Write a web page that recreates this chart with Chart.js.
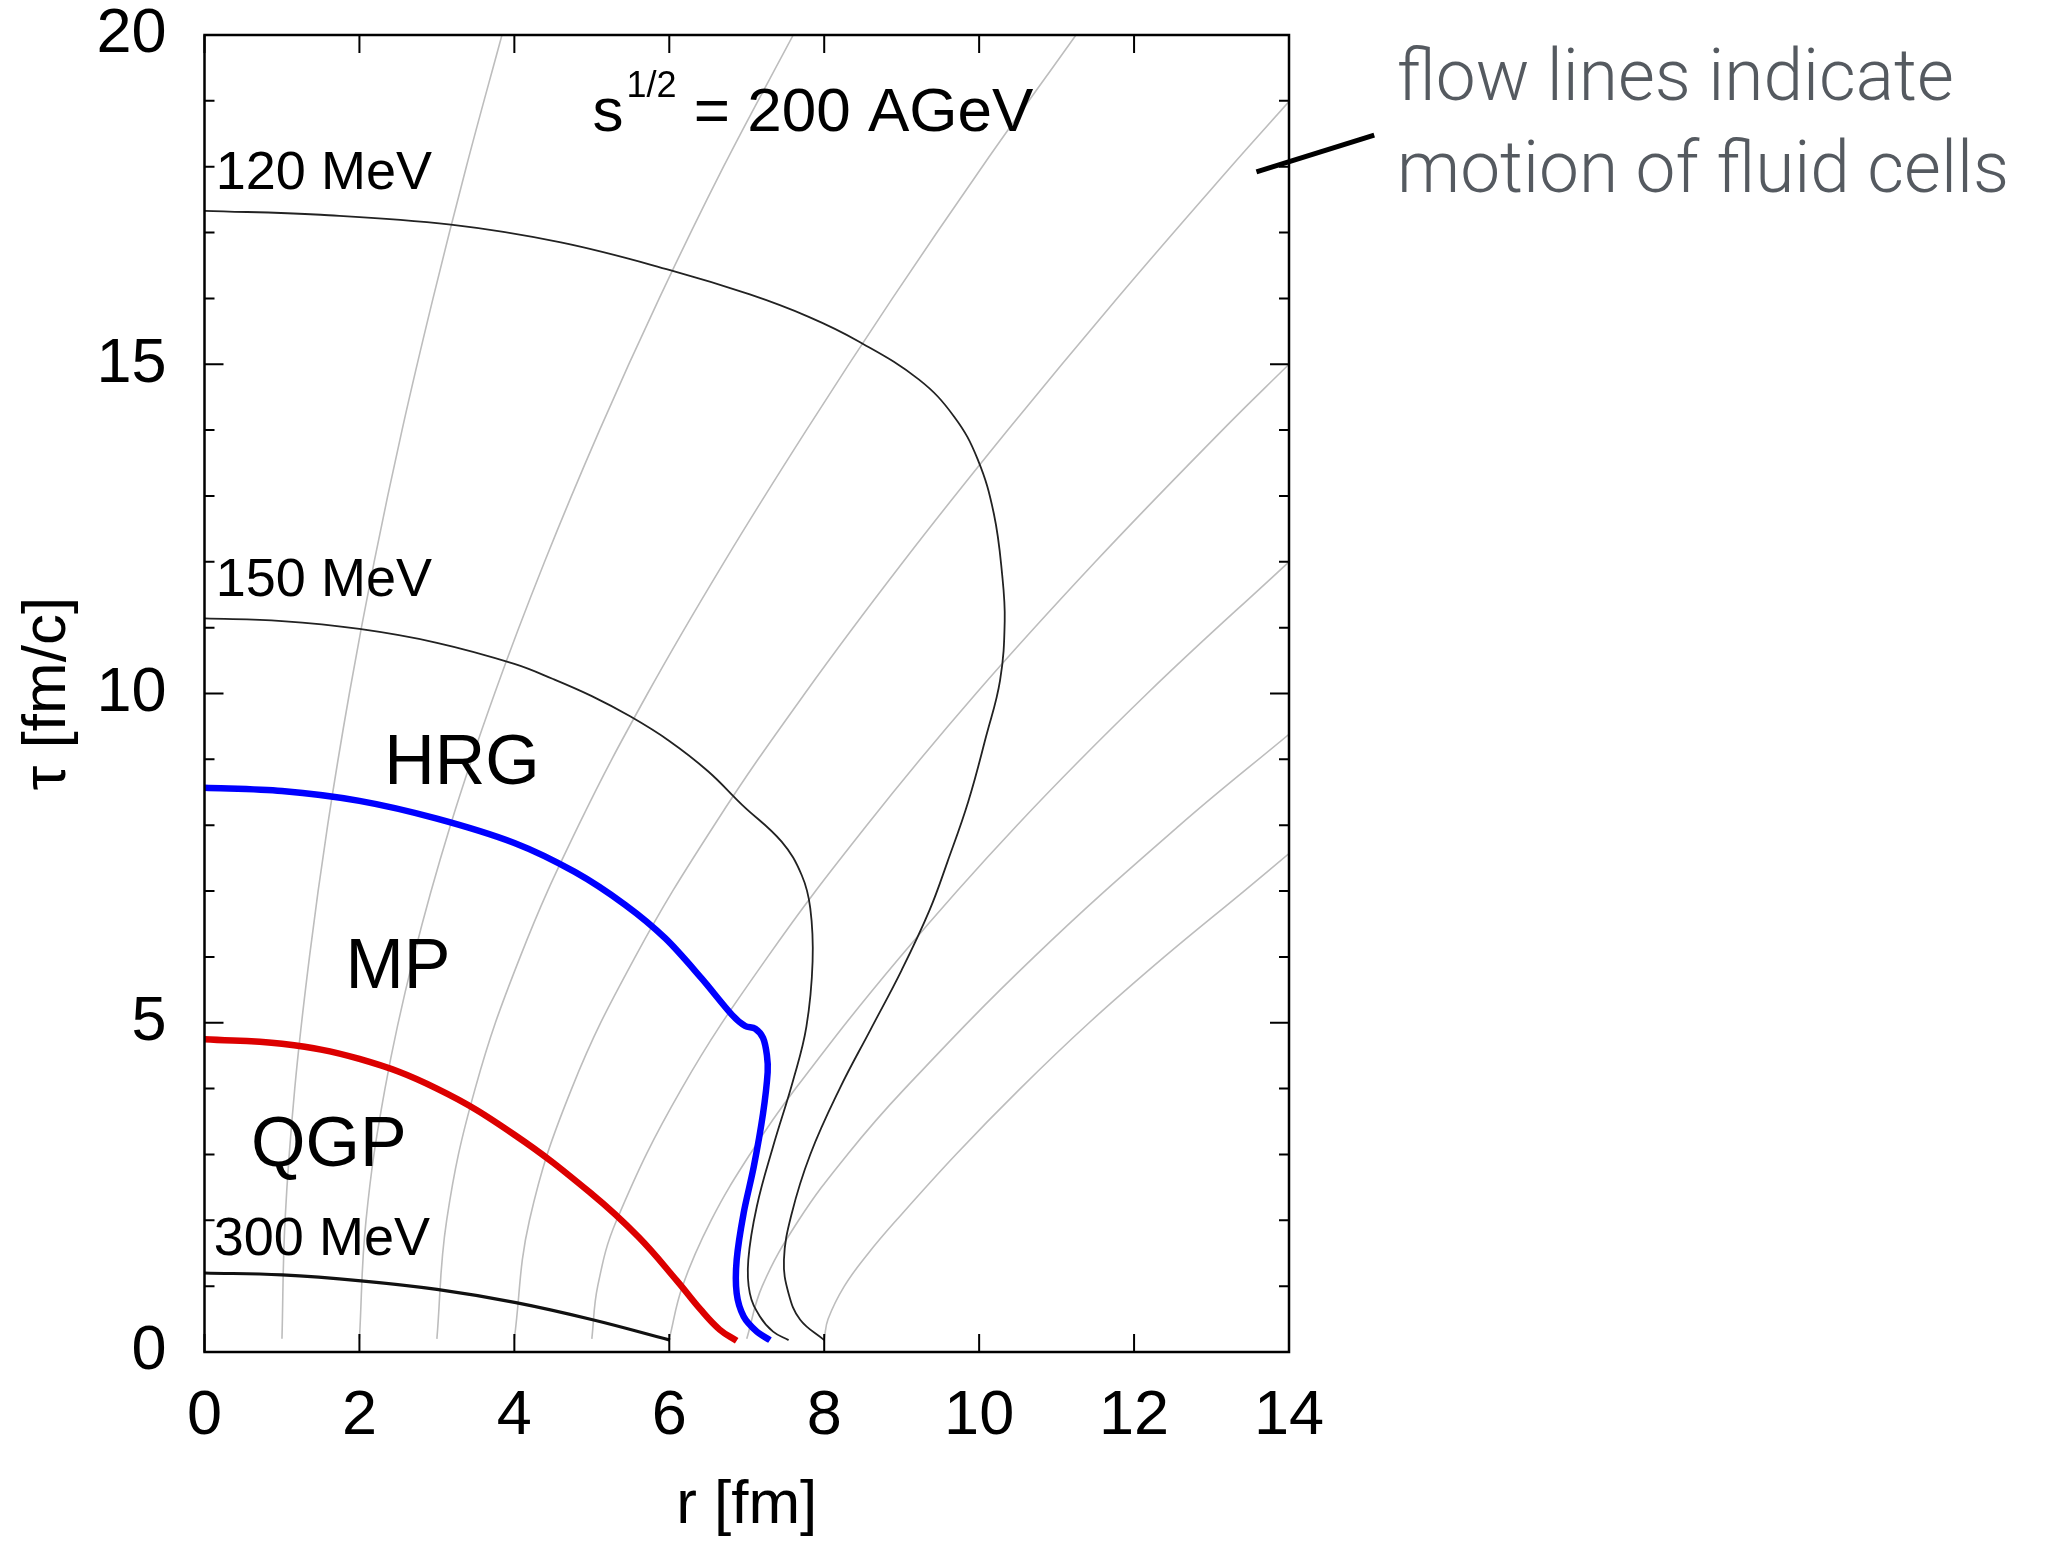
<!DOCTYPE html>
<html>
<head>
<meta charset="utf-8">
<script src="https://cdn.jsdelivr.net/npm/chart.js@4.4.1/dist/chart.umd.min.js"></script>
<style>
  html, body { margin: 0; padding: 0; background: #fff; }
  #wrap { width: 2048px; height: 1543px; }
</style>
</head>
<body>
<div id="wrap"><canvas id="chart" width="2048" height="1543"></canvas></div>
<script>
// ================= DATA ==================
// axis ticks
const rTicks = [0, 2, 4, 6, 8, 10, 12, 14];
const tauTicks = [0, 5, 10, 15, 20];

// isotherms, r [fm] vs tau [fm/c]
const t120R   = [0, 1.5, 3.18, 4.6, 6.01, 7.04, 7.8, 8.44, 9.22, 9.68, 9.98, 10.19, 10.30, 10.33, 10.27, 10.09, 9.86, 9.59, 9.36, 9.0, 8.6, 8.2, 7.82, 7.58, 7.48, 7.54, 7.69, 8.0];
const t120Tau = [17.33, 17.27, 17.12, 16.85, 16.43, 16.06, 15.72, 15.35, 14.77, 14.20, 13.56, 12.73, 11.77, 11.1, 10.2, 9.35, 8.36, 7.44, 6.71, 5.8, 4.9, 4.0, 3.0, 2.1, 1.40, 0.89, 0.49, 0.18];

const t150R   = [0, 1, 2, 3, 4, 4.5, 5, 5.5, 6, 6.5, 6.94, 7.45, 7.71, 7.82, 7.85, 7.77, 7.60, 7.34, 7.13, 7.02, 7.04, 7.17, 7.34, 7.54];
const t150Tau = [11.14, 11.10, 10.98, 10.77, 10.45, 10.22, 9.96, 9.65, 9.28, 8.82, 8.31, 7.75, 7.24, 6.74, 5.93, 4.94, 4.13, 3.12, 2.21, 1.40, 0.89, 0.54, 0.31, 0.18];

const t300R   = [0, 1, 2.02, 3, 4.02, 5.01, 6.01];
const t300Tau = [1.20, 1.17, 1.08, 0.95, 0.75, 0.49, 0.18];

// phase boundaries
const hrgR   = [0, 1, 2, 3, 4, 4.78, 5.43, 5.95, 6.42, 6.81, 6.98, 7.11, 7.21, 7.26, 7.27, 7.21, 7.09, 6.96, 6.87, 6.87, 6.96, 7.13, 7.30];
const hrgTau = [8.57, 8.52, 8.37, 8.1, 7.73, 7.29, 6.79, 6.28, 5.67, 5.12, 4.95, 4.91, 4.77, 4.51, 4.25, 3.62, 2.81, 2.11, 1.4, 0.89, 0.54, 0.31, 0.18];

const qgpR   = [0, 1, 2, 3, 4, 5, 5.6, 6.1, 6.4, 6.65, 6.87];
const qgpTau = [4.75, 4.68, 4.45, 4.0, 3.3, 2.4, 1.75, 1.08, 0.65, 0.34, 0.17];

// flow lines of fluid cells
const flowR = [
  [1, 1.04, 1.165, 1.355, 1.59, 1.87, 2.19, 2.55, 2.95, 3.38, 3.84],
  [2, 2.085, 2.33, 2.70, 3.175, 3.745, 4.39, 5.10, 5.87, 6.70, 7.60],
  [3, 3.126, 3.494, 4.075, 4.83, 5.72, 6.71, 7.77, 8.88, 10.04, 11.25],
  [4, 4.195, 4.74, 5.56, 6.58, 7.75, 9.02, 10.37, 11.78, 13.25, 14.0],
  [5, 5.076, 5.32, 6.16, 7.27, 8.55, 9.96, 11.50, 13.14, 14.0],
  [6, 6.17, 6.54, 7.04, 7.63, 8.98, 10.49, 12.17, 14.0],
  [7, 7.2, 7.67, 8.30, 9.04, 10.71, 12.59, 14.0],
  [8, 8.05, 8.26, 8.57, 8.93, 9.70, 10.53, 11.42, 12.39, 13.42, 14.0]
];
const flowTau = [
  [0.2, 2, 4, 6, 8, 10, 12, 14, 16, 18, 20],
  [0.2, 2, 4, 6, 8, 10, 12, 14, 16, 18, 20],
  [0.2, 2, 4, 6, 8, 10, 12, 14, 16, 18, 20],
  [0.2, 2, 4, 6, 8, 10, 12, 14, 16, 18, 18.99],
  [0.2, 1, 2, 4, 6, 8, 10, 12, 14, 15],
  [0.2, 1, 2, 3, 4, 6, 8, 10, 12],
  [0.2, 1, 2, 3, 4, 6, 8, 9.38],
  [0.2, 0.5, 1, 1.5, 2, 3, 4, 5, 6, 7, 7.57]
];

// pointer from the side note into the flow lines
const pointerR   = [13.58, 15.10];
const pointerTau = [17.92, 18.48];

// ================= LABELS ==================
const FONT = '"Liberation Sans", Arial, Helvetica, sans-serif';
const NOTE_FONT = 'Roboto, "Liberation Sans", sans-serif';

const regionLabels = [
  { text: '120 MeV', r: 0.146, tau: 17.66, size: 54 },
  { text: '150 MeV', r: 0.146, tau: 11.48, size: 54 },
  { text: '300 MeV', r: 0.12,  tau: 1.48,  size: 54 },
  { text: 'HRG',     r: 2.32,  tau: 8.63,  size: 70 },
  { text: 'MP',      r: 1.82,  tau: 5.53,  size: 70 },
  { text: 'QGP',     r: 0.60,  tau: 2.83,  size: 70 }
];

const noteLines = ['flow lines indicate', 'motion of fluid cells'];

function curve(rs, taus){
  return rs.map((r, i) => ({ x: r, y: taus[i] }));
}

// ================= DATASETS ==================
const datasets = [
  { data: curve(hrgR, hrgTau), borderColor: '#0000ff', borderWidth: 6.5, tension: 0.3 },
  { data: curve(qgpR, qgpTau), borderColor: '#dc0000', borderWidth: 6.5, tension: 0.4 },
  { data: curve(t300R, t300Tau), borderColor: '#111', borderWidth: 3.2, tension: 0.4 },
  { data: curve(t150R, t150Tau), borderColor: '#222', borderWidth: 1.8, tension: 0.4 },
  { data: curve(t120R, t120Tau), borderColor: '#222', borderWidth: 1.8, tension: 0.4 },
  { data: curve(pointerR, pointerTau), borderColor: '#000', borderWidth: 5, tension: 0, clip: false }
];
flowR.forEach((rs, i) => {
  datasets.push({ data: curve(rs, flowTau[i]), borderColor: '#bdbdbd', borderWidth: 1.6, tension: 0.4 });
});
datasets.forEach(d => { d.showLine = true; d.pointRadius = 0; d.fill = false; });

// ================= DECORATION ==================
const decor = {
  id: 'decor',
  afterDatasetsDraw(chart){
    const { ctx, chartArea: a, scales: { x, y } } = chart;
    ctx.save();

    // frame
    ctx.strokeStyle = '#000';
    ctx.lineWidth = 2.5;
    ctx.strokeRect(a.left, a.top, a.right - a.left, a.bottom - a.top);

    // inward ticks on all sides
    ctx.lineWidth = 2;
    ctx.beginPath();
    rTicks.forEach(v => {
      const px = x.getPixelForValue(v);
      ctx.moveTo(px, a.bottom); ctx.lineTo(px, a.bottom - 18);
      ctx.moveTo(px, a.top);    ctx.lineTo(px, a.top + 18);
    });
    for (let v = tauTicks[0]; v <= tauTicks[tauTicks.length - 1]; v++) {
      const len = tauTicks.includes(v) ? 19 : 10;
      const py = y.getPixelForValue(v);
      ctx.moveTo(a.left, py);  ctx.lineTo(a.left + len, py);
      ctx.moveTo(a.right, py); ctx.lineTo(a.right - len, py);
    }
    ctx.stroke();

    // labels inside the plot
    ctx.fillStyle = '#000';
    ctx.textAlign = 'left';
    ctx.textBaseline = 'alphabetic';
    regionLabels.forEach(l => {
      ctx.font = l.size + 'px ' + FONT;
      ctx.fillText(l.text, x.getPixelForValue(l.r), y.getPixelForValue(l.tau));
    });

    // s^{1/2} = 200 AGeV
    let tx = x.getPixelForValue(5.01);
    const ty = y.getPixelForValue(18.54);
    ctx.font = '62px ' + FONT;
    ctx.fillText('s', tx, ty);
    tx += ctx.measureText('s').width + 3;
    ctx.font = '36px ' + FONT;
    ctx.fillText('1/2', tx, ty - 34);
    tx += ctx.measureText('1/2').width;
    ctx.font = '62px ' + FONT;
    ctx.fillText(' = 200 AGeV', tx, ty);

    // side note, light face squeezed to the width of the original
    ctx.fillStyle = '#555a60';
    ctx.font = '300 73px ' + NOTE_FONT;
    const squeeze = 612 / ctx.measureText(noteLines[1]).width;
    const nx = a.right + 108;
    ctx.translate(nx, 0);
    ctx.scale(squeeze, 1);
    ctx.fillText(noteLines[0], 0, a.top + 65);
    ctx.fillText(noteLines[1], 0, a.top + 156.7);

    ctx.restore();
  }
};

// ================= CHART ==================
Chart.defaults.font.family = FONT;
Chart.defaults.color = '#000';

new Chart(document.getElementById('chart'), {
  type: 'scatter',
  data: { datasets },
  options: {
    responsive: false,
    animation: false,
    devicePixelRatio: 1,
    layout: { padding: { left: 0, right: 759, top: 35, bottom: 0 } },
    plugins: { legend: { display: false }, tooltip: { enabled: false } },
    scales: {
      x: {
        type: 'linear', min: 0, max: 14,
        afterBuildTicks: s => { s.ticks = rTicks.map(v => ({ value: v })); },
        afterFit: s => { s.height = 191; s.paddingLeft = 0; s.paddingRight = 0; },
        grid: { display: false, drawTicks: false },
        border: { display: false },
        ticks: { font: { size: 63 }, padding: 27, maxRotation: 0 },
        title: { display: true, text: 'r [fm]', font: { size: 62 }, padding: { top: 0, bottom: 0 } }
      },
      y: {
        type: 'linear', min: 0, max: 20,
        afterBuildTicks: s => { s.ticks = tauTicks.map(v => ({ value: v })); },
        afterFit: s => { s.width = 204.5; s.paddingTop = 0; s.paddingBottom = 0; },
        grid: { display: false, drawTicks: false },
        border: { display: false },
        ticks: { font: { size: 63 }, padding: 38 },
        title: { display: true, text: 'τ [fm/c]', font: { size: 62 }, padding: { top: 11, bottom: 0 } }
      }
    }
  },
  plugins: [decor]
});
</script>
</body>
</html>
